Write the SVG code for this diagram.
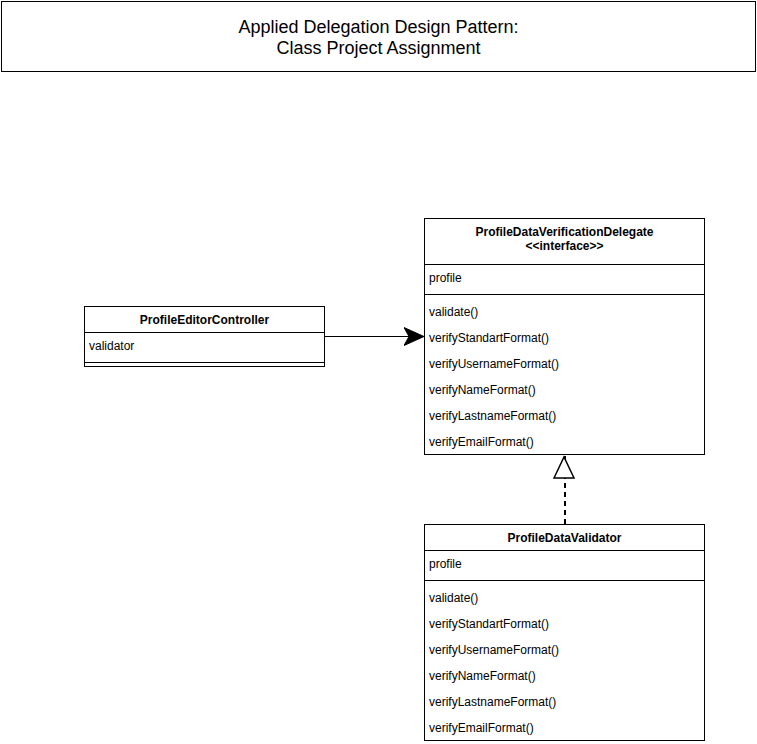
<svg xmlns="http://www.w3.org/2000/svg" width="757" height="744" viewBox="0 0 757 744">
<style>
.box{fill:#fff;stroke:#000;stroke-width:1}
.ln{stroke:#000;stroke-width:1;fill:none}
text{font-family:"Liberation Sans",Arial,sans-serif;fill:#000}
.t{font-size:12px}
.b{font-size:12px;font-weight:bold;text-anchor:middle}
.title{font-size:18px;text-anchor:middle}
</style>
<defs>
<marker id="classic" markerUnits="userSpaceOnUse" markerWidth="22" markerHeight="22" refX="20" refY="9" orient="auto" viewBox="0 0 22 18">
<path d="M0,0 L20,9 L0,18 L5,9 Z" fill="#000" stroke="#000" stroke-width="1"/>
</marker>
<marker id="tri" markerUnits="userSpaceOnUse" markerWidth="24" markerHeight="24" refX="22" refY="11" orient="auto" viewBox="-1 -1 24 24">
<path d="M0,0 L21,10 L0,20 Z" fill="#fff" stroke="#000" stroke-width="1.5"/>
</marker>
</defs>
<rect width="757" height="744" fill="#fff"/>
<g id="title">
<rect class="box" x="1.5" y="1.5" width="754" height="70"/>
<text class="title" x="378.5" y="33">Applied Delegation Design Pattern:</text>
<text class="title" x="378.5" y="54">Class Project Assignment</text>
</g>
<g id="connectors">
<line class="ln" x1="325" y1="336.5" x2="424" y2="336.5" marker-end="url(#classic)"/>
<line x1="565" y1="524" x2="565" y2="456" stroke="#000" stroke-width="2" stroke-dasharray="5 4" marker-end="url(#tri)"/>
</g>
<g id="ProfileEditorController">
<rect class="box" x="84.5" y="306.5" width="240" height="60"/>
<line class="ln" x1="84.5" y1="332.5" x2="324.5" y2="332.5"/>
<line class="ln" x1="84.5" y1="362.5" x2="324.5" y2="362.5"/>
<text class="b" x="204.5" y="324">ProfileEditorController</text>
<text class="t" x="89" y="350">validator</text>
</g>
<g id="ProfileDataVerificationDelegate">
<rect class="box" x="424.5" y="218.5" width="280" height="236"/>
<line class="ln" x1="424.5" y1="264.5" x2="704.5" y2="264.5"/>
<line class="ln" x1="424.5" y1="294.5" x2="704.5" y2="294.5"/>
<text class="b" x="564.5" y="236">ProfileDataVerificationDelegate</text>
<text class="b" x="564.5" y="250">&lt;&lt;interface&gt;&gt;</text>
<text class="t" x="429" y="282">profile</text>
<text class="t" x="429" y="316">validate()</text>
<text class="t" x="429" y="342">verifyStandartFormat()</text>
<text class="t" x="429" y="368">verifyUsernameFormat()</text>
<text class="t" x="429" y="394">verifyNameFormat()</text>
<text class="t" x="429" y="420">verifyLastnameFormat()</text>
<text class="t" x="429" y="446">verifyEmailFormat()</text>
</g>
<g id="ProfileDataValidator">
<rect class="box" x="424.5" y="524.5" width="280" height="216"/>
<line class="ln" x1="424.5" y1="550.5" x2="704.5" y2="550.5"/>
<line class="ln" x1="424.5" y1="580.5" x2="704.5" y2="580.5"/>
<text class="b" x="564.5" y="542">ProfileDataValidator</text>
<text class="t" x="429" y="568">profile</text>
<text class="t" x="429" y="602">validate()</text>
<text class="t" x="429" y="628">verifyStandartFormat()</text>
<text class="t" x="429" y="654">verifyUsernameFormat()</text>
<text class="t" x="429" y="680">verifyNameFormat()</text>
<text class="t" x="429" y="706">verifyLastnameFormat()</text>
<text class="t" x="429" y="732">verifyEmailFormat()</text>
</g>
</svg>
